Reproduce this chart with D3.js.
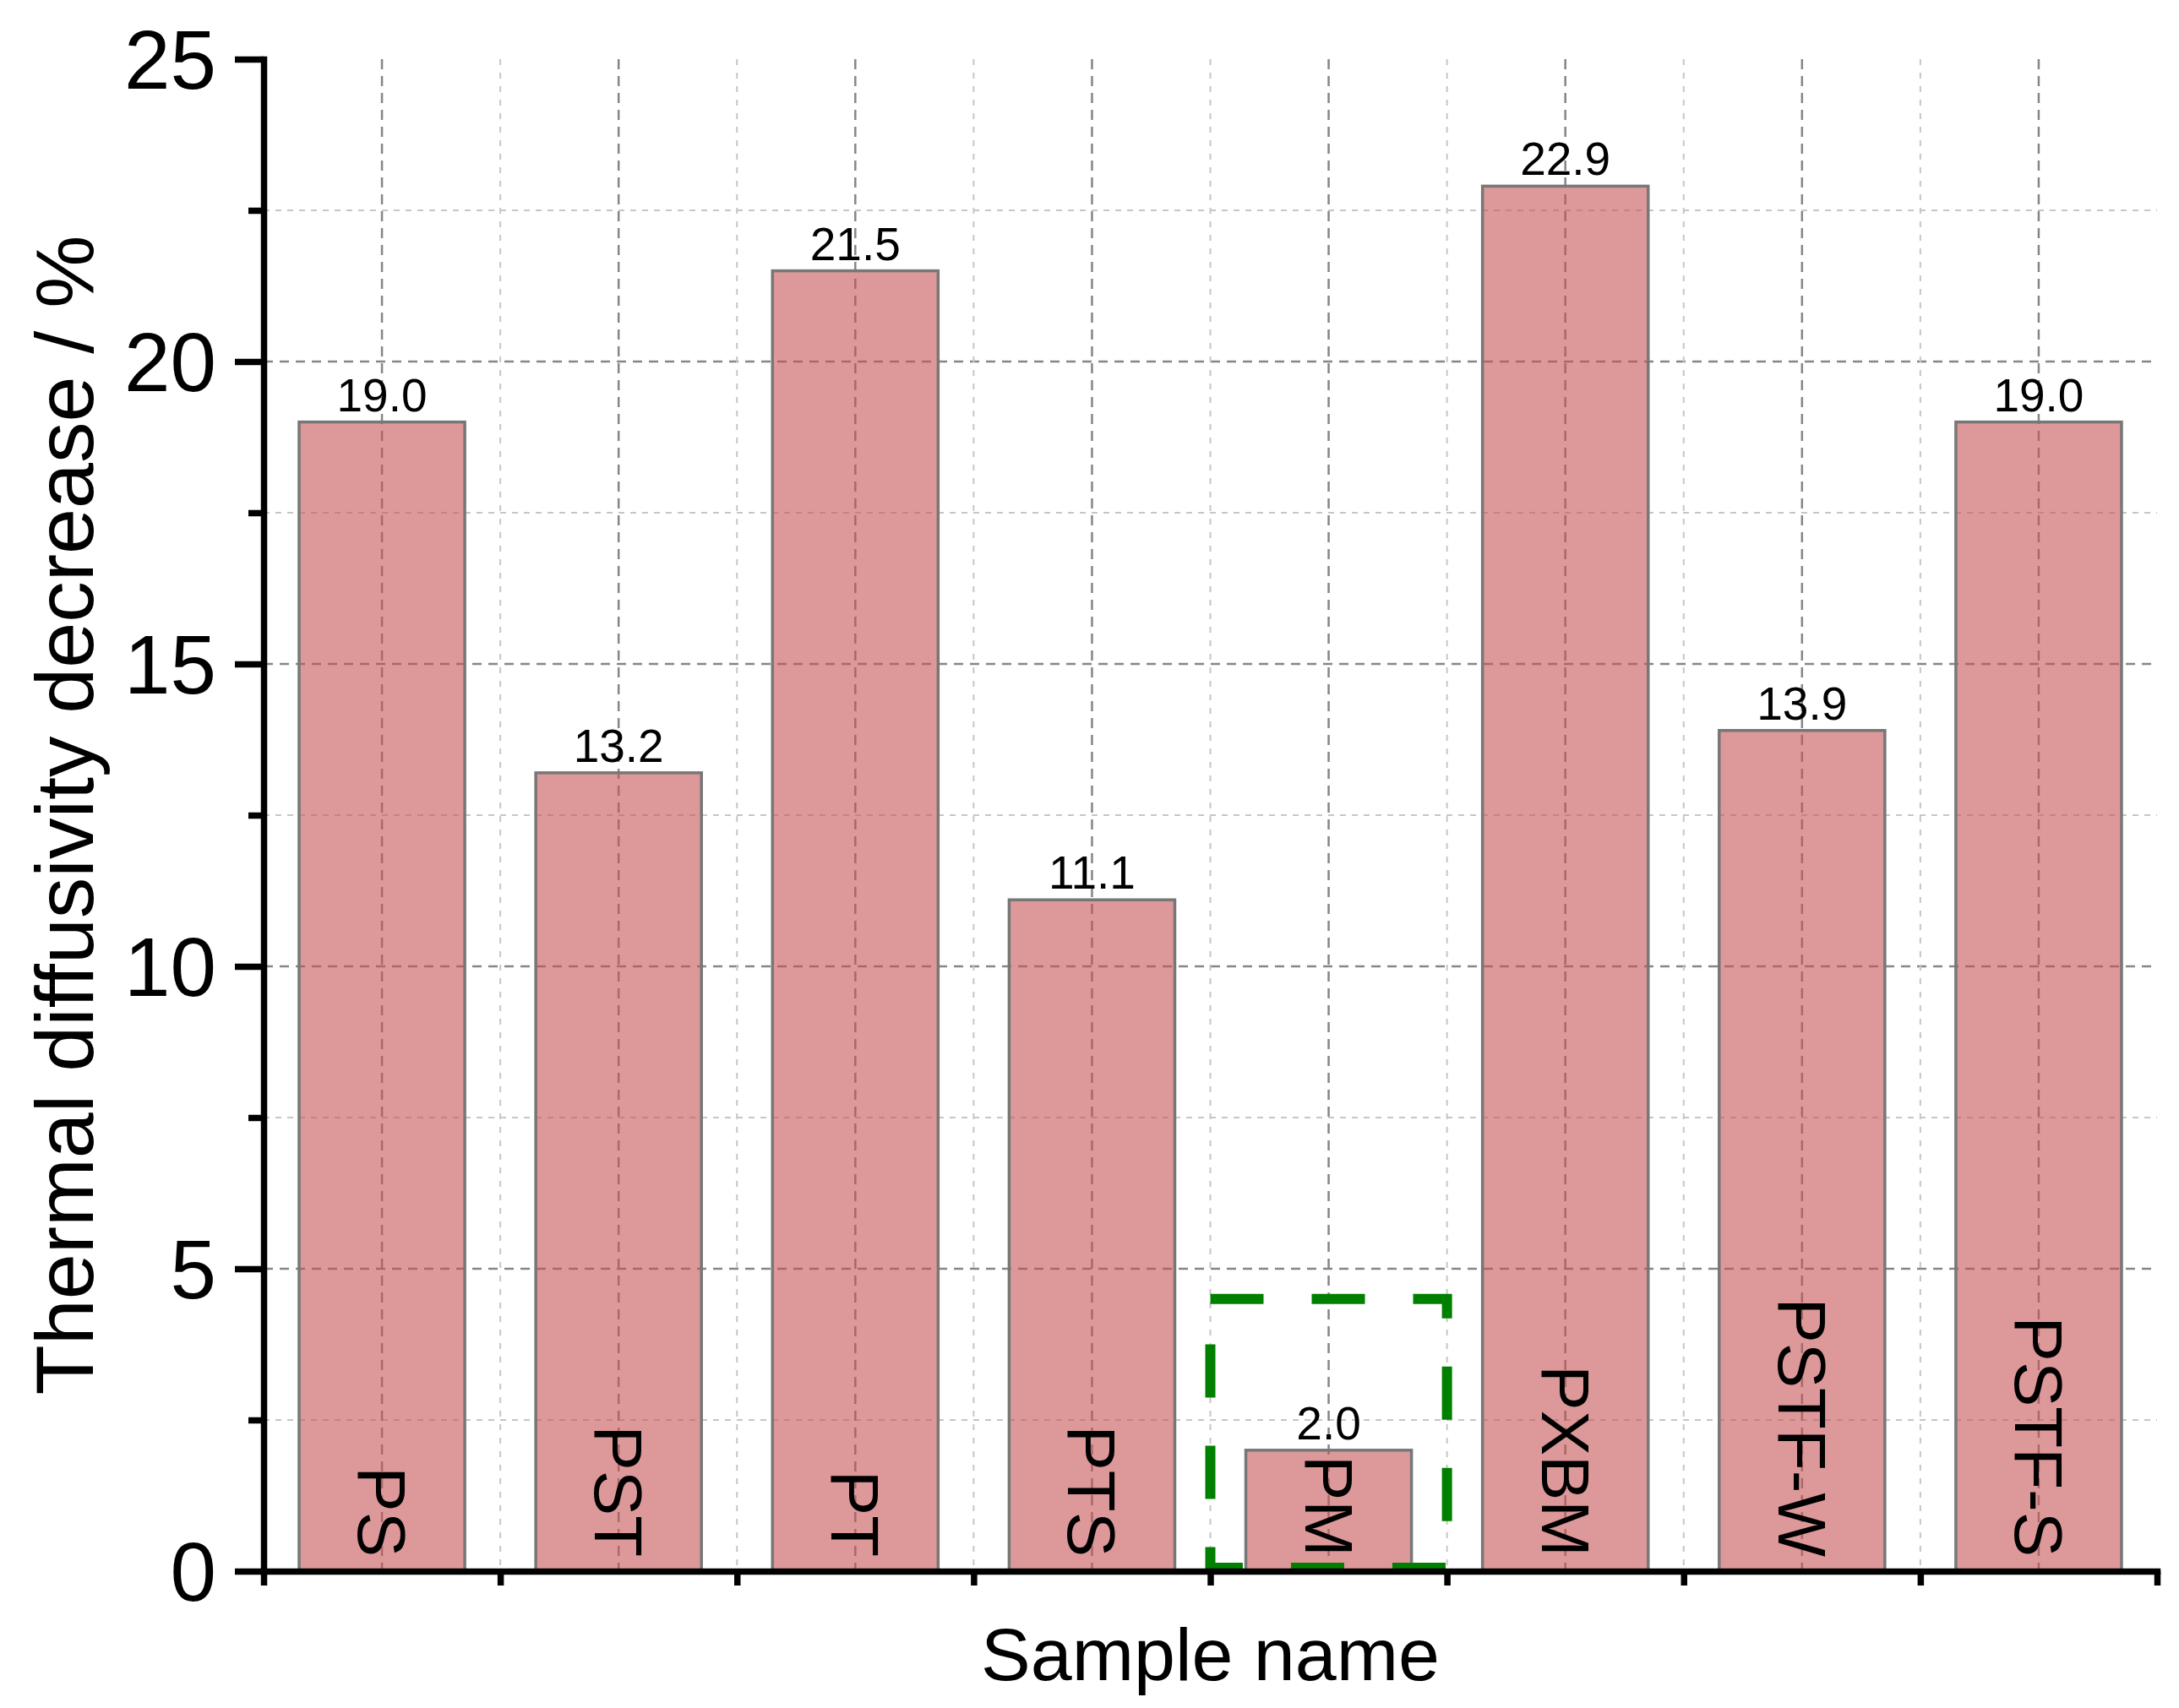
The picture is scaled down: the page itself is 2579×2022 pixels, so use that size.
<!DOCTYPE html>
<html>
<head>
<meta charset="utf-8">
<script src="https://cdn.jsdelivr.net/npm/d3@7"></script>
<style>
  html, body { margin: 0; padding: 0; background: #fff; }
  svg text { font-family: "Liberation Sans", Arial, sans-serif; fill: #000; }
</style>
</head>
<body>
<svg id="chart" width="2579" height="2022"></svg>
<script>
// ---- data ----
const categories = ["PS", "PST", "PT", "PTS", "PM", "PXBM", "PSTF-W", "PSTF-S"];
const values = [19.0, 13.2, 21.5, 11.1, 2.0, 22.9, 13.9, 19.0];
const yMajorTicks = [0, 5, 10, 15, 20, 25];
const yMinorTicks = [2.5, 7.5, 12.5, 17.5, 22.5];
const highlightCategories = ["PM"];
const highlightTop = [4.5];
const yTitle = "Thermal diffusivity decrease / %";
const xTitle = "Sample name";

// ---- layout ----
const plotLeft = 312, plotRight = 2553, plotTop = 70, plotBottom = 1860;
const svg = d3.select("#chart");

const x = d3.scaleBand().domain(categories).range([plotLeft, plotRight]).padding(0);
const xEdge = d3.scaleLinear().domain([0, categories.length]).range([plotLeft, plotRight]);
const y = d3.scaleLinear().domain([0, 25]).range([plotBottom, plotTop]);
const barFrac = 0.7;

// ---- grid ----
const grid = svg.append("g");
grid.selectAll(".hmin").data(yMinorTicks).enter().append("line")
  .attr("x1", plotLeft).attr("x2", plotRight).attr("y1", d => y(d)).attr("y2", d => y(d))
  .attr("stroke", "#c6c6c6").attr("stroke-width", 2).attr("stroke-dasharray", "7 7");
grid.selectAll(".hmaj").data(yMajorTicks.filter(d => d > 0 && d < 25)).enter().append("line")
  .attr("x1", plotLeft).attr("x2", plotRight).attr("y1", d => y(d)).attr("y2", d => y(d))
  .attr("stroke", "#868686").attr("stroke-width", 2.5).attr("stroke-dasharray", "11 8");
grid.selectAll(".vmin").data(d3.range(1, categories.length)).enter().append("line")
  .attr("x1", d => xEdge(d)).attr("x2", d => xEdge(d)).attr("y1", plotTop).attr("y2", plotBottom)
  .attr("stroke", "#c6c6c6").attr("stroke-width", 2).attr("stroke-dasharray", "7 9");
grid.selectAll(".vmaj").data(categories).enter().append("line")
  .attr("x1", d => x(d) + x.bandwidth() / 2).attr("x2", d => x(d) + x.bandwidth() / 2)
  .attr("y1", plotTop).attr("y2", plotBottom)
  .attr("stroke", "#868686").attr("stroke-width", 2.5).attr("stroke-dasharray", "12 8");

// ---- bars ----
const data = categories.map((c, i) => ({ c, v: values[i] }));
svg.append("g").selectAll("rect").data(data).enter().append("rect")
  .attr("x", d => x(d.c) + x.bandwidth() * (1 - barFrac) / 2)
  .attr("width", x.bandwidth() * barFrac)
  .attr("y", d => y(d.v))
  .attr("height", d => y(0) - y(d.v))
  .attr("fill", "rgb(198,83,85)").attr("fill-opacity", 0.6)
  .attr("stroke", "#777").attr("stroke-width", 3.5);

svg.append("g").selectAll("text").data(data).enter().append("text")
  .attr("x", d => x(d.c) + x.bandwidth() / 2)
  .attr("y", d => y(d.v) - 13)
  .attr("text-anchor", "middle")
  .attr("font-size", 55)
  .text(d => d.v.toFixed(1));

svg.append("g").selectAll("text").data(data).enter().append("text")
  .attr("transform", d => `translate(${x(d.c) + x.bandwidth() / 2},${y(0) - 17}) rotate(90)`)
  .attr("text-anchor", "end")
  .attr("dy", "0.35em")
  .attr("font-size", 80)
  .text(d => d.c);

// ---- highlight box ----
highlightCategories.forEach((c, i) => {
  const x0 = x(c), x1 = x(c) + x.bandwidth();
  const y0 = y(highlightTop[i]), y1 = y(0) - 4;
  svg.append("path")
    .attr("d", `M${x0},${y0} H${x1} V${y1} H${x0} Z`)
    .attr("fill", "none")
    .attr("stroke", "#008000")
    .attr("stroke-width", 12)
    .attr("stroke-dasharray", "63 57");
});

// ---- axes ----
const axisStroke = 7.5;
const yAxis = svg.append("g").attr("transform", `translate(${plotLeft},0)`)
  .call(d3.axisLeft(y).tickValues(yMajorTicks).tickSize(34).tickSizeOuter(0).tickPadding(22)
    .tickFormat(d3.format("d")));
yAxis.selectAll("text").attr("font-size", 98).attr("dy", "0.35em");
const yAxisMinor = svg.append("g").attr("transform", `translate(${plotLeft},0)`)
  .call(d3.axisLeft(y).tickValues(yMinorTicks).tickSize(18).tickSizeOuter(0).tickFormat(""));
yAxisMinor.select(".domain").remove();

const xAxis = svg.append("g").attr("transform", `translate(0,${plotBottom})`)
  .call(d3.axisBottom(xEdge).tickValues(d3.range(categories.length + 1)).tickSize(17).tickSizeOuter(0).tickFormat(""));

[yAxis, yAxisMinor, xAxis].forEach(g => {
  g.selectAll(".domain").attr("stroke", "#000").attr("stroke-width", axisStroke).attr("stroke-linecap", "square");
  g.selectAll(".tick line").attr("stroke", "#000").attr("stroke-width", axisStroke);
  g.selectAll("text").attr("fill", "#000").attr("font-family", "Liberation Sans, Arial, sans-serif");
});

// ---- titles ----
svg.append("text")
  .attr("transform", `translate(110,${(plotTop + plotBottom) / 2}) rotate(-90)`)
  .attr("text-anchor", "middle")
  .attr("font-size", 97)
  .text(yTitle);
svg.append("text")
  .attr("x", (plotLeft + plotRight) / 2)
  .attr("y", 1989)
  .attr("text-anchor", "middle")
  .attr("font-size", 88)
  .text(xTitle);
</script>
</body>
</html>
